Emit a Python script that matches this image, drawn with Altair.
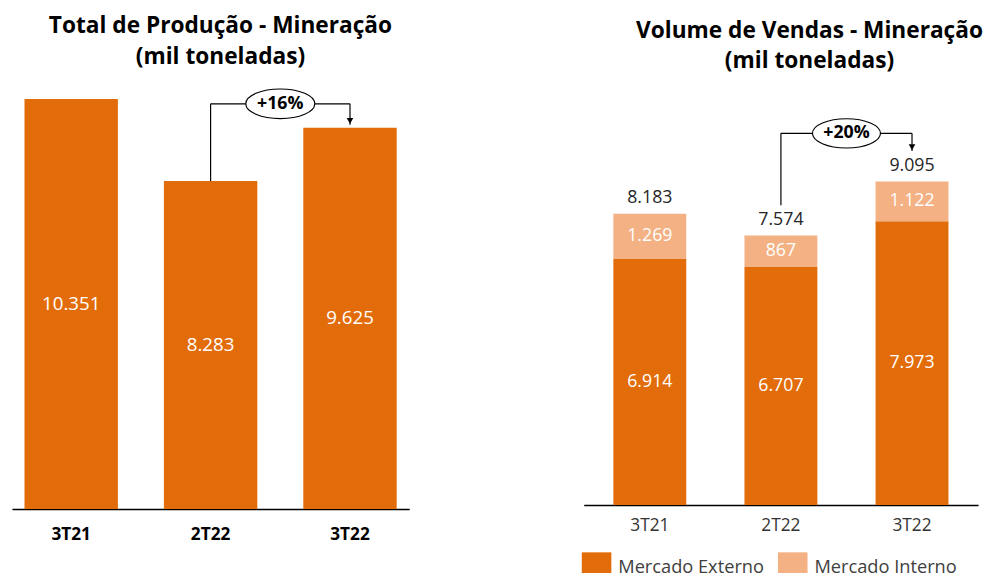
import altair as alt
import pandas as pd

# ---------------- data ----------------
cats = ["3T21", "2T22", "3T22"]
producao = [10351, 8283, 9625]
externo = [6914, 6707, 7973]
interno = [1269, 867, 1122]
totais = [8183, 7574, 9095]
series = ["Mercado Externo", "Mercado Interno"]
var_prod = "+16%"
var_vendas = "+20%"

# annotation bracket levels (data units)
prod_bracket = 10230
prod_tip = 9700
vend_bracket = 10446
vend_start = 8423
vend_tip = 9947

ORANGE = "#E36C0A"
LIGHT = "#F4B183"
FONT = "Open Sans"
ELLIPSE = "M -1 0 A 1 0.43 0 1 0 1 0 A 1 0.43 0 1 0 -1 0 Z"


def fmt(v):
    return f"{v:,}".replace(",", ".")


# ---------------- left panel ----------------
WL, HL = 403, 423
pI_L, pO_L = 0.33, 0.09
stepL = WL / (3 - pI_L + 2 * pO_L)
yL = alt.Scale(domain=[0, 10530], nice=False, zero=True)
xscaleL = alt.Scale(paddingInner=pI_L, paddingOuter=pO_L)
axL = alt.Axis(title=None, labelAngle=0, labelFont=FONT, labelFontSize=17.5,
               labelFontWeight="bold", labelColor="black", ticks=False, tickSize=0,
               labelPadding=17, domainColor="black", domainWidth=1.5, grid=False)


def xl(field="cat"):
    return alt.X(f"{field}:N", sort=cats, scale=xscaleL, axis=axL)


df_prod = pd.DataFrame({"cat": cats, "v": producao, "lbl": [fmt(v) for v in producao]})

barsL = alt.Chart(df_prod).mark_bar(color=ORANGE).encode(
    x=xl(), y=alt.Y("v:Q", scale=yL, axis=None))
labelsL = alt.Chart(df_prod).transform_calculate(mid="datum.v / 2").mark_text(
    color="white", font=FONT, fontSize=19, baseline="middle").encode(
    x=xl(), y=alt.Y("mid:Q", scale=yL, axis=None), text="lbl:N")

segL = pd.DataFrame([
    {"cat": cats[1], "cat2": cats[1], "y": producao[1], "y2": prod_bracket},
    {"cat": cats[1], "cat2": cats[2], "y": prod_bracket, "y2": prod_bracket},
    {"cat": cats[2], "cat2": cats[2], "y": prod_bracket, "y2": prod_tip},
])
rulesL = alt.Chart(segL).mark_rule(color="black", strokeWidth=1.2).encode(
    x=xl(), x2="cat2:N", y=alt.Y("y:Q", scale=yL, axis=None), y2="y2:Q")
arrowL = alt.Chart(pd.DataFrame({"cat": [cats[2]], "y": [prod_tip]})).mark_point(
    shape="triangle-down", filled=True, color="black", size=45, opacity=1, yOffset=-4).encode(
    x=xl(), y=alt.Y("y:Q", scale=yL, axis=None))
annL = pd.DataFrame({"cat": [cats[1]], "y": [prod_bracket], "t": [var_prod]})
ellL = alt.Chart(annL).mark_point(
    shape=ELLIPSE, size=4900, filled=True, fill="white", stroke="black",
    strokeWidth=1.2, opacity=1, xOffset=stepL / 2).encode(
    x=xl(), y=alt.Y("y:Q", scale=yL, axis=None))
txtL = alt.Chart(annL).mark_text(
    font=FONT, fontSize=18, fontWeight="bold", color="black", baseline="middle",
    xOffset=stepL / 2).encode(x=xl(), y=alt.Y("y:Q", scale=yL, axis=None), text="t:N")

left = alt.layer(barsL, labelsL, rulesL, arrowL, ellL, txtL).properties(
    width=WL, height=HL,
    title=alt.TitleParams(["Total de Produção - Mineração", "(mil toneladas)"],
                          font=FONT, fontSize=23, fontWeight="bold", color="black",
                          anchor="middle", dx=10, dy=5, offset=0, lineHeight=31,
                          baseline="bottom"))

# ---------------- right panel ----------------
WR, HR = 400, 419
pI_R, pO_R = 0.444, 0.226
stepR = WR / (3 - pI_R + 2 * pO_R)
yR = alt.Scale(domain=[0, 11610], nice=False, zero=True)
xscaleR = alt.Scale(paddingInner=pI_R, paddingOuter=pO_R)
axR = alt.Axis(title=None, labelAngle=0, labelFont=FONT, labelFontSize=17.5,
               labelColor="#333333", ticks=False, tickSize=0, labelPadding=12,
               domainColor="black", domainWidth=1.5, grid=False)


def xr(field="cat"):
    return alt.X(f"{field}:N", sort=cats, scale=xscaleR, axis=axR)


rows = []
for c, e, i in zip(cats, externo, interno):
    rows.append({"cat": c, "serie": series[0], "v": e, "ord": 0, "mid": e / 2, "lbl": fmt(e)})
    rows.append({"cat": c, "serie": series[1], "v": i, "ord": 1, "mid": e + i / 2, "lbl": fmt(i)})
df_v = pd.DataFrame(rows)
df_tot = pd.DataFrame({"cat": cats, "v": totais, "lbl": [fmt(v) for v in totais]})

barsR = alt.Chart(df_v).mark_bar().encode(
    x=xr(),
    y=alt.Y("v:Q", stack="zero", scale=yR, axis=None),
    color=alt.Color("serie:N", scale=alt.Scale(domain=series, range=[ORANGE, LIGHT]),
                    legend=alt.Legend(title=None, orient="none", legendX=578, legendY=467,
                                      direction="horizontal", symbolType="square",
                                      symbolSize=900, symbolStrokeWidth=0,
                                      symbolOpacity=1, labelFont=FONT, labelFontSize=18.5,
                                      labelColor="#404040", labelOffset=7,
                                      columnPadding=14, padding=0)),
    order=alt.Order("ord:Q"))
labelsR = alt.Chart(df_v).mark_text(color="white", font=FONT, fontSize=18,
                                     baseline="middle").encode(
    x=xr(), y=alt.Y("mid:Q", stack=None, scale=yR, axis=None), text="lbl:N")
totR = alt.Chart(df_tot).mark_text(color="#262626", font=FONT, fontSize=18,
                                   baseline="middle", dy=-16).encode(
    x=xr(), y=alt.Y("v:Q", scale=yR, axis=None), text="lbl:N")

segR = pd.DataFrame([
    {"cat": cats[1], "cat2": cats[1], "y": vend_start, "y2": vend_bracket},
    {"cat": cats[1], "cat2": cats[2], "y": vend_bracket, "y2": vend_bracket},
    {"cat": cats[2], "cat2": cats[2], "y": vend_bracket, "y2": vend_tip},
])
rulesR = alt.Chart(segR).mark_rule(color="black", strokeWidth=1.2).encode(
    x=xr(), x2="cat2:N", y=alt.Y("y:Q", scale=yR, axis=None), y2="y2:Q")
arrowR = alt.Chart(pd.DataFrame({"cat": [cats[2]], "y": [vend_tip]})).mark_point(
    shape="triangle-down", filled=True, color="black", size=45, opacity=1, yOffset=-4).encode(
    x=xr(), y=alt.Y("y:Q", scale=yR, axis=None))
annR = pd.DataFrame({"cat": [cats[1]], "y": [vend_bracket], "t": [var_vendas]})
ellR = alt.Chart(annR).mark_point(
    shape=ELLIPSE, size=4761, filled=True, fill="white", stroke="black",
    strokeWidth=1.2, opacity=1, xOffset=stepR / 2).encode(
    x=xr(), y=alt.Y("y:Q", scale=yR, axis=None))
txtR = alt.Chart(annR).mark_text(
    font=FONT, fontSize=18, fontWeight="bold", color="black", baseline="middle",
    xOffset=stepR / 2).encode(x=xr(), y=alt.Y("y:Q", scale=yR, axis=None), text="t:N")

right = alt.layer(barsR, labelsR, totR, rulesR, arrowR, ellR, txtR).properties(
    width=WR, height=HR,
    title=alt.TitleParams(["Volume de Vendas - Mineração", "(mil toneladas)"],
                          font=FONT, fontSize=23, fontWeight="bold", color="black",
                          anchor="middle", dx=29, dy=4, offset=0, lineHeight=31,
                          baseline="bottom"))

chart = alt.hconcat(left, right, spacing=177, bounds="flush").properties(
    padding={"left": 4, "top": 3, "right": 0, "bottom": 0}
).configure_view(stroke=None)

chart.save("out.html", embed_options={"renderer": "svg", "actions": False})
